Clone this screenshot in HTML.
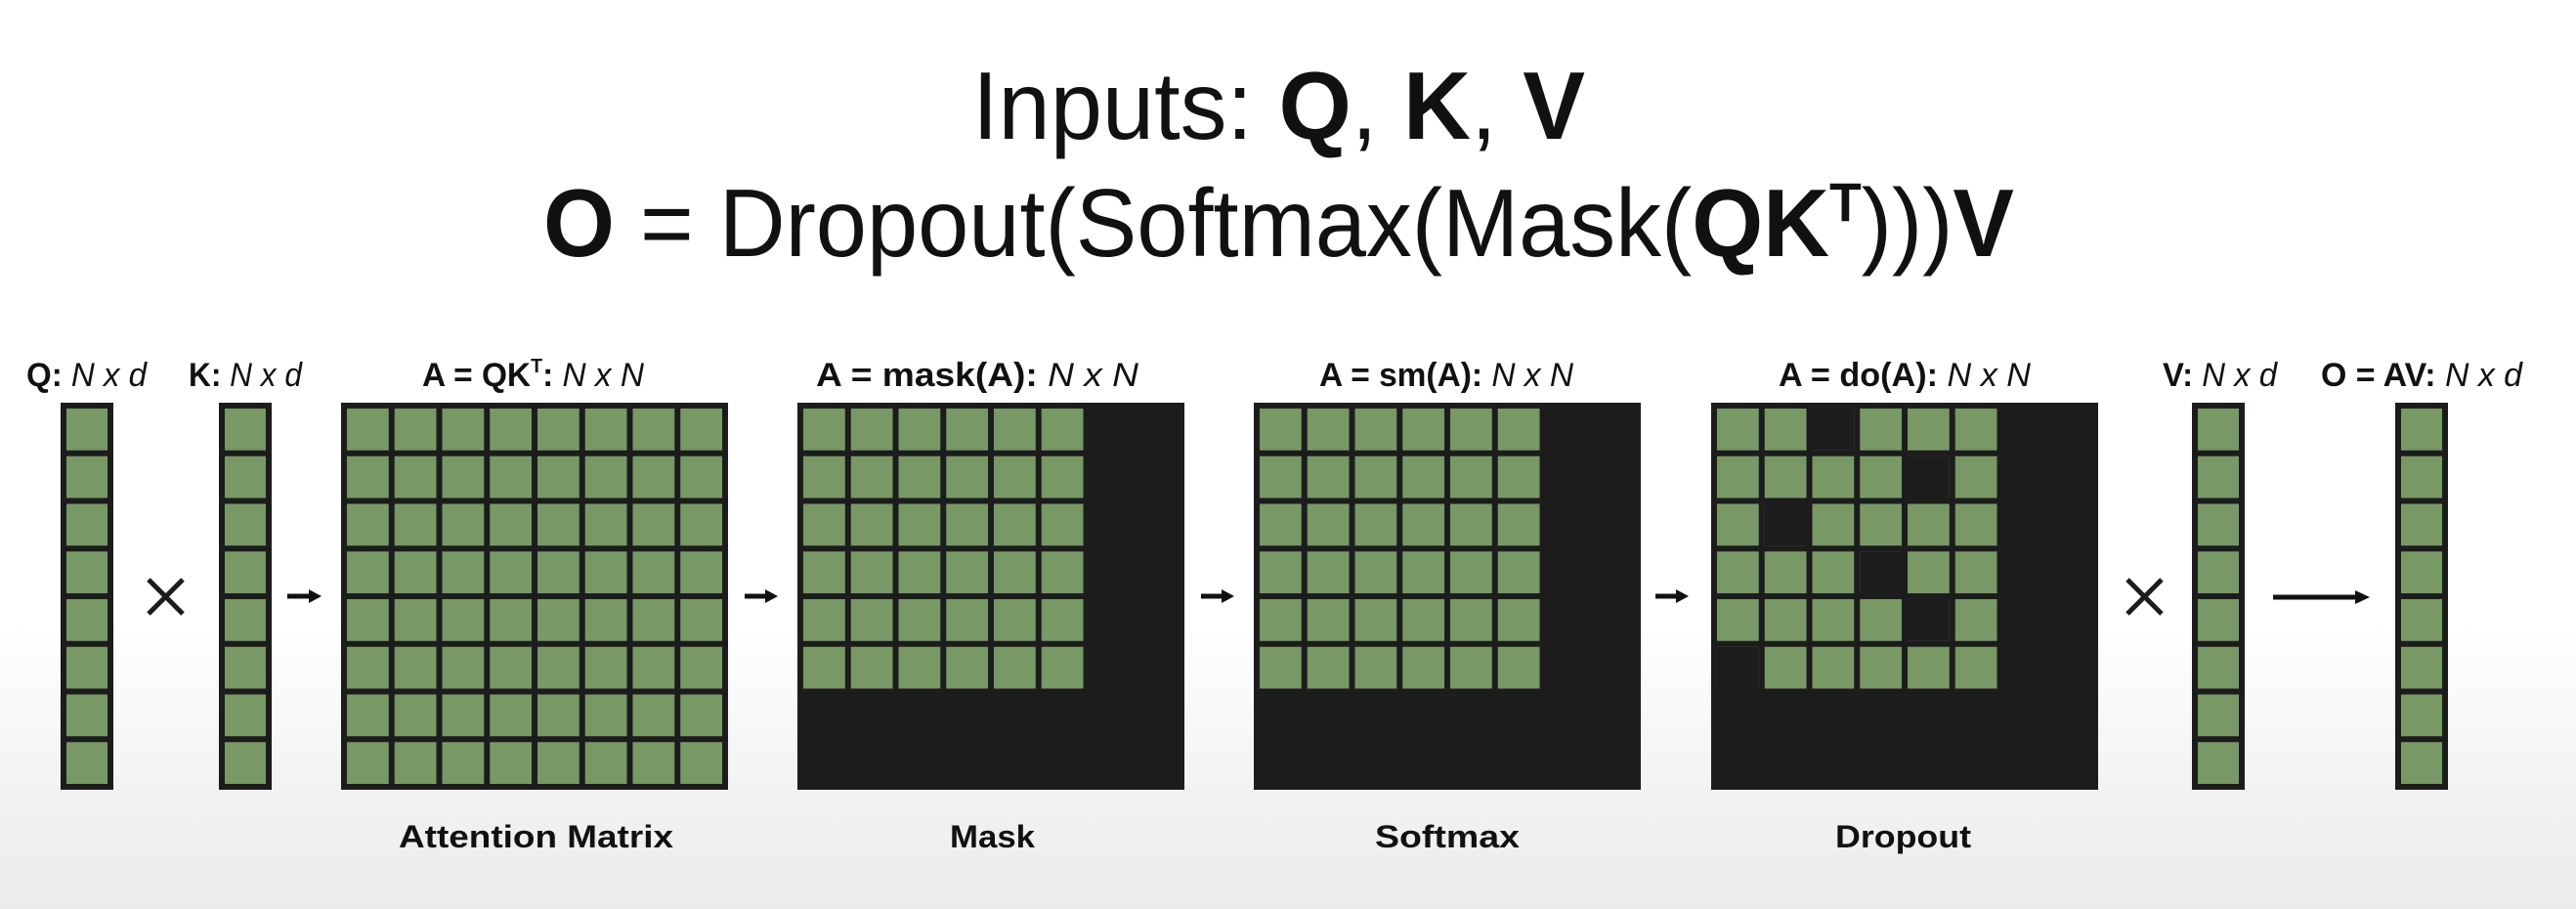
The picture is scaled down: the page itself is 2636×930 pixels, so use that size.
<!DOCTYPE html>
<html><head><style>
html,body{margin:0;padding:0;width:2636px;height:930px;overflow:hidden;}
body{background:linear-gradient(to bottom,#ffffff 0px,#ffffff 640px,#f3f3f3 800px,#ebebeb 930px);}
svg{display:block;}
text{font-family:"Liberation Sans",sans-serif;fill:#111;}
</style></head><body>
<svg width="2636" height="930" viewBox="0 0 2636 930" xmlns="http://www.w3.org/2000/svg">
<defs>
<pattern id="pm" patternUnits="userSpaceOnUse" x="0" y="0" width="48.75" height="48.75">
<rect x="0" y="0" width="48.75" height="48.75" fill="#1c1c1c"/>
<rect x="6" y="6" width="42.75" height="42.75" fill="#789966"/>
</pattern>
<pattern id="pc" patternUnits="userSpaceOnUse" x="0" y="0" width="54" height="48.75">
<rect x="0" y="0" width="54" height="48.75" fill="#1c1c1c"/>
<rect x="6" y="6" width="42" height="42.75" fill="#789966"/>
</pattern>
</defs>

<!-- Title -->
<text x="995" y="142" font-size="98" textLength="627" lengthAdjust="spacingAndGlyphs">Inputs: <tspan font-weight="bold">Q</tspan>, <tspan font-weight="bold">K</tspan>, <tspan font-weight="bold">V</tspan></text>
<text x="556" y="262" font-size="98" textLength="1505" lengthAdjust="spacingAndGlyphs"><tspan font-weight="bold">O</tspan> = Dropout(Softmax(Mask(<tspan font-weight="bold">QK</tspan><tspan font-weight="bold" font-size="56" dy="-36">T</tspan><tspan dy="36">)))</tspan><tspan font-weight="bold">V</tspan></text>

<!-- top labels -->
<g font-size="34">
<text x="27" y="395" textLength="123" lengthAdjust="spacingAndGlyphs"><tspan font-weight="bold">Q:</tspan> <tspan font-style="italic">N x d</tspan></text>
<text x="193" y="395" textLength="116" lengthAdjust="spacingAndGlyphs"><tspan font-weight="bold">K:</tspan> <tspan font-style="italic">N x d</tspan></text>
<text x="432" y="395" textLength="227" lengthAdjust="spacingAndGlyphs"><tspan font-weight="bold">A = QK</tspan><tspan font-weight="bold" font-size="20" dy="-14">T</tspan><tspan font-weight="bold" dy="14">:</tspan> <tspan font-style="italic">N x N</tspan></text>
<text x="835" y="395" textLength="330" lengthAdjust="spacingAndGlyphs"><tspan font-weight="bold">A = mask(A):</tspan> <tspan font-style="italic">N x N</tspan></text>
<text x="1350" y="395" textLength="260" lengthAdjust="spacingAndGlyphs"><tspan font-weight="bold">A = sm(A):</tspan> <tspan font-style="italic">N x N</tspan></text>
<text x="1820" y="395" textLength="258" lengthAdjust="spacingAndGlyphs"><tspan font-weight="bold">A = do(A):</tspan> <tspan font-style="italic">N x N</tspan></text>
<text x="2213" y="395" textLength="117" lengthAdjust="spacingAndGlyphs"><tspan font-weight="bold">V:</tspan> <tspan font-style="italic">N x d</tspan></text>
<text x="2375" y="395" textLength="206" lengthAdjust="spacingAndGlyphs"><tspan font-weight="bold">O = AV:</tspan> <tspan font-style="italic">N x d</tspan></text>
</g>

<!-- columns -->
<g transform="translate(62,412)"><rect width="54" height="396" fill="url(#pc)"/><rect x="0" y="390" width="54" height="6" fill="#1c1c1c"/></g>
<g transform="translate(224,412)"><rect width="54" height="396" fill="url(#pc)"/><rect x="0" y="390" width="54" height="6" fill="#1c1c1c"/></g>
<g transform="translate(2243,412)"><rect width="54" height="396" fill="url(#pc)"/><rect x="0" y="390" width="54" height="6" fill="#1c1c1c"/></g>
<g transform="translate(2451,412)"><rect width="54" height="396" fill="url(#pc)"/><rect x="0" y="390" width="54" height="6" fill="#1c1c1c"/></g>

<!-- attention matrix -->
<g transform="translate(349,412)"><rect width="396" height="396" fill="#1c1c1c"/><rect width="396" height="390" fill="url(#pm)"/></g>
<!-- mask -->
<g transform="translate(816,412)"><rect width="396" height="396" fill="#1c1c1c"/><rect width="298.5" height="298.5" fill="url(#pm)"/></g>
<!-- softmax -->
<g transform="translate(1283,412)"><rect width="396" height="396" fill="#1c1c1c"/><rect width="298.5" height="298.5" fill="url(#pm)"/></g>
<!-- dropout -->
<g transform="translate(1751,412)"><rect width="396" height="396" fill="#1c1c1c"/><rect width="298.5" height="298.5" fill="url(#pm)"/>
<g fill="#1c1c1c">
<rect x="103.5" y="6" width="42.75" height="42.75"/>
<rect x="201" y="54.75" width="42.75" height="42.75"/>
<rect x="54.75" y="103.5" width="42.75" height="42.75"/>
<rect x="152.25" y="152.25" width="42.75" height="42.75"/>
<rect x="201" y="201" width="42.75" height="42.75"/>
<rect x="6" y="249.75" width="42.75" height="42.75"/>
</g></g>

<!-- multiplication signs -->
<g stroke="#1c1c1c" stroke-width="5" stroke-linecap="butt">
<line x1="152" y1="593" x2="187" y2="628"/><line x1="187" y1="593" x2="152" y2="628"/>
<line x1="2177" y1="593" x2="2212" y2="628"/><line x1="2212" y1="593" x2="2177" y2="628"/>
</g>

<!-- arrows -->
<g fill="#111" stroke="#111">
<line x1="294" y1="610" x2="318" y2="610" stroke-width="5"/><polygon points="316,603 329,610 316,617" stroke="none"/>
<line x1="762" y1="610" x2="785" y2="610" stroke-width="5"/><polygon points="783,603 796,610 783,617" stroke="none"/>
<line x1="1229" y1="610" x2="1252" y2="610" stroke-width="5"/><polygon points="1250,603 1263,610 1250,617" stroke="none"/>
<line x1="1694" y1="610" x2="1717" y2="610" stroke-width="5"/><polygon points="1715,603 1728,610 1715,617" stroke="none"/>
<line x1="2326" y1="611" x2="2412" y2="611" stroke-width="5"/><polygon points="2410,604 2425,611 2410,618" stroke="none"/>
</g>

<!-- bottom labels -->
<g font-size="32" font-weight="bold">
<text x="408" y="867" textLength="281" lengthAdjust="spacingAndGlyphs">Attention Matrix</text>
<text x="972" y="867" textLength="87" lengthAdjust="spacingAndGlyphs">Mask</text>
<text x="1407" y="867" textLength="148" lengthAdjust="spacingAndGlyphs">Softmax</text>
<text x="1878" y="867" textLength="139" lengthAdjust="spacingAndGlyphs">Dropout</text>
</g>
</svg>
</body></html>
